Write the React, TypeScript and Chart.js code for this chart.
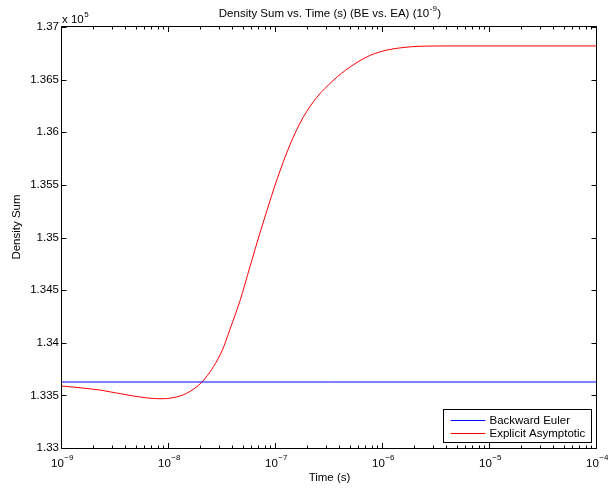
import { useEffect, useRef } from 'react';
import { Chart, registerables } from 'chart.js';

Chart.register(...registerables);

// ---- Data ----
const TIMES_BE = [1e-9, 1e-4];
const DENSITY_BE = [133627, 133627];

const TIMES_EA = [
  1.0e-9, 2.26e-9, 4.64e-9, 8.24e-9, 1.09e-8, 1.46e-8, 2.02e-8, 2.6e-8, 3.15e-8, 3.72e-8,
  4.61e-8, 5.71e-8, 7.08e-8, 9.12e-8, 1.02e-7, 1.35e-7, 1.79e-7, 2.4e-7, 3.41e-7, 4.92e-7,
  7.57e-7, 1.09e-6, 1.54e-6, 2.22e-6, 4.23e-6, 1.0e-5, 1.0e-4,
];
const DENSITY_EA = [
  133589, 133551, 133494, 133468, 133478, 133520, 133624, 133772, 133930, 134130,
  134400, 134723, 135043, 135400, 135550, 135880, 136140, 136330, 136490, 136620,
  136730, 136781, 136805, 136817, 136820, 136820, 136820,
];

const SERIES_LABELS = ['Backward Euler', 'Explicit Asymptotic'];
const SERIES_COLORS = ['#0000ff', '#ff0000'];

const X_TICK_EXPONENTS = [-9, -8, -7, -6, -5, -4];
const Y_MIN = 133000;
const Y_MAX = 137000;
const Y_STEP = 500;
const Y_SCALE_EXP = 5;

const TITLE_MAIN = 'Density Sum vs. Time (s) (BE vs. EA) (10';
const TITLE_SUP = '-9';
const TITLE_END = ')';
const X_LABEL = 'Time (s)';
const Y_LABEL = 'Density Sum';

const FONT_FAMILY = '"Liberation Sans", Arial, Helvetica, sans-serif';
const F11 = `11.5px ${FONT_FAMILY}`;
const F8 = `8px ${FONT_FAMILY}`;

function toPoints(xs: number[], ys: number[]) {
  return xs.map((x, i) => ({ x, y: ys[i] }));
}

const matlabPlugin = {
  id: 'matlabAxes',
  afterDatasetsDraw(chart: any) {
    const { ctx, chartArea } = chart;
    const { left, right, top, bottom } = chartArea;
    const xs = chart.scales.x;
    const ys = chart.scales.y;
    const L = Math.round(left) - 0.5;
    const R = Math.round(right) - 0.5;
    const T = Math.round(top) - 0.5;
    const B = Math.round(bottom) + 0.5;
    ctx.save();
    ctx.strokeStyle = '#000';
    ctx.lineWidth = 1;
    ctx.beginPath();
    ctx.rect(L, T, R - L, B - T);
    ctx.stroke();

    // y ticks
    ctx.beginPath();
    for (let v = Y_MIN; v <= Y_MAX + 1e-6; v += Y_STEP) {
      const py = Math.round(ys.getPixelForValue(v)) + 0.5;
      ctx.moveTo(L, py);
      ctx.lineTo(L + 5, py);
      ctx.moveTo(R, py);
      ctx.lineTo(R - 5, py);
    }
    // x major ticks
    X_TICK_EXPONENTS.forEach((e) => {
      const px = Math.round(xs.getPixelForValue(Math.pow(10, e))) - 0.5;
      ctx.moveTo(px, B);
      ctx.lineTo(px, B - 5.5);
      ctx.moveTo(px, T);
      ctx.lineTo(px, T + 5.5);
    });
    // x minor ticks
    for (let i = 0; i < X_TICK_EXPONENTS.length - 1; i++) {
      for (let m = 2; m <= 9; m++) {
        const px = Math.round(xs.getPixelForValue(m * Math.pow(10, X_TICK_EXPONENTS[i]))) - 0.5;
        ctx.moveTo(px, B);
        ctx.lineTo(px, B - 3);
        ctx.moveTo(px, T);
        ctx.lineTo(px, T + 3);
      }
    }
    ctx.stroke();

    // x tick labels with superscripts
    ctx.fillStyle = '#000';
    ctx.textBaseline = 'alphabetic';
    ctx.textAlign = 'left';
    X_TICK_EXPONENTS.forEach((e) => {
      const px = xs.getPixelForValue(Math.pow(10, e));
      const base = '10';
      const sup = '\u2212' + Math.abs(e);
      ctx.font = F11;
      const wb = ctx.measureText(base).width;
      ctx.font = F8;
      const ws = ctx.measureText(sup).width;
      const x0 = px - (wb + ws) / 2;
      ctx.font = F11;
      ctx.fillText(base, x0, 467);
      ctx.font = F8;
      ctx.fillText(sup, x0 + wb + 0.5, 460);
    });

    // legend
    const dsets = chart.data.datasets;
    ctx.font = F11;
    let maxW = 0;
    dsets.forEach((d: any) => {
      maxW = Math.max(maxW, ctx.measureText(d.label).width);
    });
    const boxW = Math.round(7 + 35 + 4 + maxW + 6);
    const boxH = 33;
    const bx = Math.round(right) - 6 - boxW + 0.5;
    const by = Math.round(bottom) - 6 - boxH + 0.5;
    ctx.fillStyle = '#fff';
    ctx.fillRect(bx, by, boxW, boxH);
    ctx.strokeStyle = '#000';
    ctx.lineWidth = 1;
    ctx.strokeRect(bx, by, boxW, boxH);
    dsets.forEach((d: any, i: number) => {
      const ly = Math.round(by + 10 + i * 13.3) + 0.5;
      ctx.strokeStyle = d.borderColor;
      ctx.beginPath();
      ctx.moveTo(bx + 7, ly);
      ctx.lineTo(bx + 42, ly);
      ctx.stroke();
      ctx.fillStyle = '#000';
      ctx.textBaseline = 'middle';
      ctx.fillText(d.label, bx + 46, ly + 0.5);
    });
    ctx.restore();
  },
  afterDraw(chart: any) {
    const { ctx, chartArea } = chart;
    const { left, right, top } = chartArea;
    const cx = (left + right) / 2;
    ctx.save();
    ctx.fillStyle = '#000';
    ctx.textBaseline = 'alphabetic';
    ctx.textAlign = 'left';

    // title
    ctx.font = F11;
    const w1 = ctx.measureText(TITLE_MAIN).width;
    const w3 = ctx.measureText(TITLE_END).width;
    ctx.font = F8;
    const w2 = ctx.measureText(TITLE_SUP).width;
    const tx = cx - (w1 + w2 + w3) / 2;
    ctx.font = F11;
    ctx.fillText(TITLE_MAIN, tx, 17);
    ctx.font = F8;
    ctx.fillText(TITLE_SUP, tx + w1 + 0.5, 11);
    ctx.font = F11;
    ctx.fillText(TITLE_END, tx + w1 + w2 + 1, 17);

    // exponent label
    ctx.font = F11;
    const ex = 'x 10';
    const wex = ctx.measureText(ex).width;
    ctx.fillText(ex, left, top - 4);
    ctx.font = F8;
    ctx.fillText(String(Y_SCALE_EXP), left + wex + 0.5, top - 10);

    // x label
    ctx.font = F11;
    ctx.textAlign = 'center';
    ctx.fillText(X_LABEL, cx, 481);

    // y label
    ctx.translate(20, 227);
    ctx.rotate(-Math.PI / 2);
    ctx.fillText(Y_LABEL, 0, 0);
    ctx.restore();
  },
};

export default function App() {
  const canvasRef = useRef<HTMLCanvasElement | null>(null);

  useEffect(() => {
    document.body.style.margin = '0';
    const canvas = canvasRef.current;
    if (!canvas) return;
    const chart = new Chart(canvas, {
      type: 'line',
      data: {
        datasets: [
          {
            label: SERIES_LABELS[0],
            data: toPoints(TIMES_BE, DENSITY_BE),
            borderColor: SERIES_COLORS[0],
            borderWidth: 1,
            pointRadius: 0,
            fill: false,
          },
          {
            label: SERIES_LABELS[1],
            data: toPoints(TIMES_EA, DENSITY_EA),
            borderColor: SERIES_COLORS[1],
            borderWidth: 1,
            pointRadius: 0,
            fill: false,
            cubicInterpolationMode: 'monotone',
          },
        ],
      },
      options: {
        animation: false,
        responsive: true,
        maintainAspectRatio: false,
        devicePixelRatio: 1,
        layout: { padding: { top: 27, right: 11, bottom: 0, left: 0 } },
        plugins: {
          legend: { display: false },
          title: { display: false },
          tooltip: { enabled: false },
        },
        events: [],
        scales: {
          x: {
            type: 'logarithmic',
            min: 1e-9,
            max: 1e-4,
            grid: { display: false, drawTicks: false },
            border: { display: false },
            ticks: { display: false },
            afterFit: (scale: any) => {
              scale.height = 40;
            },
          },
          y: {
            type: 'linear',
            min: Y_MIN,
            max: Y_MAX,
            grid: { display: false, drawTicks: false },
            border: { display: false },
            ticks: {
              stepSize: Y_STEP,
              padding: 3,
              color: '#000',
              font: { family: FONT_FAMILY, size: 11.5 },
              callback: (v: any) => String(Number((Number(v) / Math.pow(10, Y_SCALE_EXP)).toFixed(4))),
            },
            afterFit: (scale: any) => {
              scale.width = 62;
            },
          },
        },
      },
      plugins: [matlabPlugin],
    } as any);
    return () => chart.destroy();
  }, []);

  return (
    <div style={{ position: 'fixed', left: 0, top: 0, width: 608, height: 488, background: '#fff' }}>
      <canvas ref={canvasRef} />
    </div>
  );
}
